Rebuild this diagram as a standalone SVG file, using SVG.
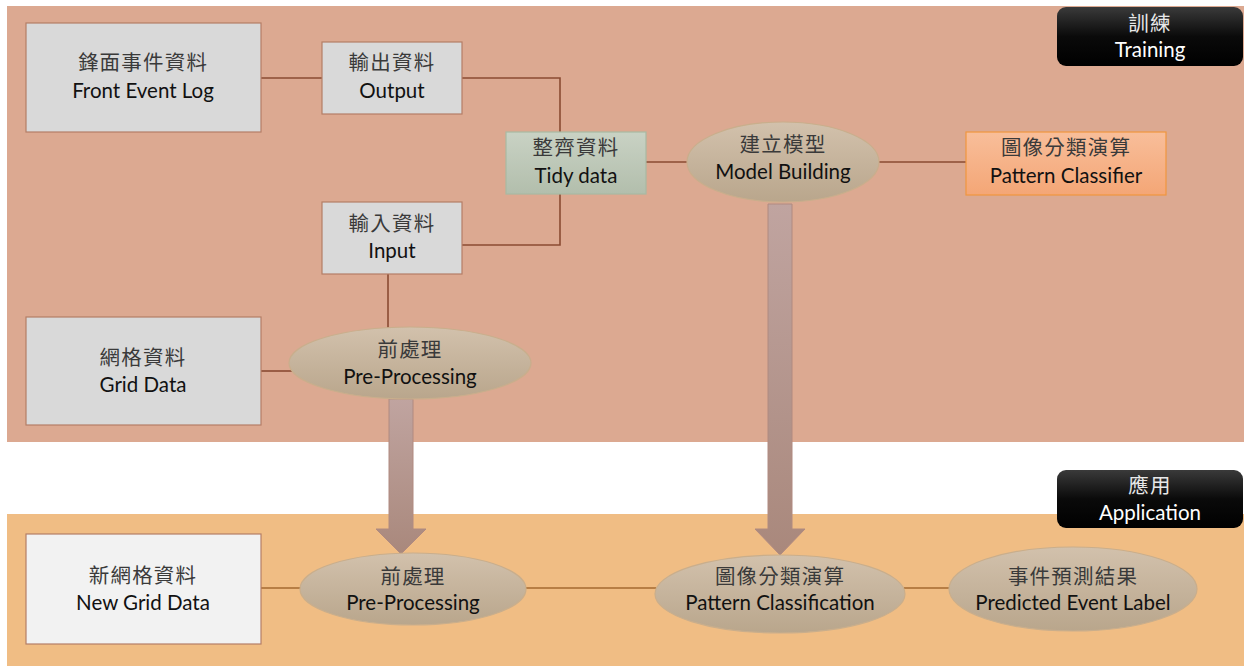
<svg xmlns="http://www.w3.org/2000/svg" width="1244" height="666" viewBox="0 0 1244 666">
<defs>
<linearGradient id="gEll" x1="0" y1="0" x2="0" y2="1"><stop offset="0" stop-color="#D2C1AC"/><stop offset="1" stop-color="#B9A68C"/></linearGradient>
<linearGradient id="gTidy" x1="0" y1="0" x2="0" y2="1"><stop offset="0" stop-color="#C9D2C4"/><stop offset="1" stop-color="#B2BEAC"/></linearGradient>
<linearGradient id="gOrange" x1="0" y1="0" x2="0" y2="1"><stop offset="0" stop-color="#F8BE9A"/><stop offset="1" stop-color="#F4A676"/></linearGradient>
<linearGradient id="gBlack" x1="0" y1="0" x2="0" y2="1"><stop offset="0" stop-color="#3A3A3A"/><stop offset="0.5" stop-color="#0A0A0A"/><stop offset="1" stop-color="#000"/></linearGradient>
<linearGradient id="gArrow" x1="0" y1="0" x2="0" y2="1"><stop offset="0" stop-color="#C0A4A0"/><stop offset="1" stop-color="#A9887C"/></linearGradient>
<style>
.box{fill:#D9D9D9;stroke:#B47E66;stroke-width:1.2}
.ell{fill:url(#gEll);stroke:#C9AE8C;stroke-width:1.2}
.zh{font-family:"Noto Sans CJK TC","Noto Sans CJK SC",sans-serif;font-size:20.5px;fill:#3A3A3A;text-anchor:middle;letter-spacing:1.2px}
.en{font-family:Lato,"Open Sans",sans-serif;font-size:20.5px;fill:#111;text-anchor:middle}
.wz{fill:#E8E8E8}
.we{fill:#FFF}
.ln{stroke:#8A4B32;stroke-width:1.6;fill:none}
.la{stroke:#A56A30;stroke-width:1.6;fill:none}
.arr{fill:url(#gArrow);stroke:#B08A80;stroke-width:1}
</style>
</defs>
<rect x="7" y="6" width="1237" height="436" fill="#DCA991"/>
<rect x="7" y="514" width="1237" height="152" fill="#F0BD84"/>
<g id="connectors">
<path class="ln" d="M261 78 H322"/>
<path class="ln" d="M462 78 H560 V132"/>
<path class="ln" d="M462 245 H560 V194"/>
<path class="ln" d="M646 162 H687"/>
<path class="ln" d="M879 162 H966"/>
<path class="ln" d="M388 274 V328"/>
<path class="ln" d="M261 371 H292"/>
<path class="la" d="M261 588 H301"/>
<path class="la" d="M526 588 H656"/>
<path class="la" d="M904 588 H950"/>
<path class="arr" d="M389 399 H413 V529 H426 L401 554 L376 529 H389 Z"/>
<path class="arr" d="M768 204 H792 V529 H805 L780 555 L755 529 H768 Z"/>
</g>
<g id="label-training">
<rect x="1057" y="7" width="186" height="59" rx="9" fill="url(#gBlack)"/>
<text class="zh wz" x="1150" y="31">訓練</text>
<text class="en we" x="1150" y="57">Training</text>
</g>
<g id="label-application">
<rect x="1057" y="470" width="186" height="58" rx="9" fill="url(#gBlack)"/>
<text class="zh wz" x="1150" y="493">應用</text>
<text class="en we" x="1150" y="520">Application</text>
</g>
<g id="front-event-log">
<rect class="box" x="26" y="23" width="235" height="109"/>
<text class="zh" x="143" y="70">鋒面事件資料</text>
<text class="en" x="143" y="98">Front Event Log</text>
</g>
<g id="output">
<rect class="box" x="322" y="42" width="140" height="72"/>
<text class="zh" x="392" y="70">輸出資料</text>
<text class="en" x="392" y="98">Output</text>
</g>
<g id="input">
<rect class="box" x="322" y="202" width="140" height="72"/>
<text class="zh" x="392" y="231">輸入資料</text>
<text class="en" x="392" y="258">Input</text>
</g>
<g id="tidy-data">
<rect x="506" y="132" width="140" height="62" fill="url(#gTidy)" stroke="#A9B9A2" stroke-width="1.2"/>
<text class="zh" x="576" y="155">整齊資料</text>
<text class="en" x="576" y="183">Tidy data</text>
</g>
<g id="model-building">
<ellipse class="ell" cx="783" cy="162" rx="96" ry="40"/>
<text class="zh" x="783" y="152">建立模型</text>
<text class="en" x="783" y="179">Model Building</text>
</g>
<g id="pattern-classifier">
<rect x="966" y="132" width="200" height="63" fill="url(#gOrange)" stroke="#F0963F" stroke-width="1.2"/>
<text class="zh" x="1066" y="155">圖像分類演算</text>
<text class="en" x="1066" y="183">Pattern Classifier</text>
</g>
<g id="grid-data">
<rect class="box" x="26" y="317" width="235" height="108"/>
<text class="zh" x="143" y="365">網格資料</text>
<text class="en" x="143" y="392">Grid Data</text>
</g>
<g id="pre-processing-train">
<ellipse class="ell" cx="410" cy="363" rx="121" ry="36"/>
<text class="zh" x="410" y="357">前處理</text>
<text class="en" x="410" y="384">Pre-Processing</text>
</g>
<g id="new-grid-data">
<rect x="26" y="534" width="235" height="110" fill="#F2F2F2" stroke="#B47E66" stroke-width="1.2"/>
<text class="zh" x="143" y="583">新網格資料</text>
<text class="en" x="143" y="610">New Grid Data</text>
</g>
<g id="pre-processing-app">
<ellipse class="ell" cx="413" cy="589" rx="113" ry="36"/>
<text class="zh" x="413" y="584">前處理</text>
<text class="en" x="413" y="610">Pre-Processing</text>
</g>
<g id="pattern-classification">
<ellipse class="ell" cx="780" cy="594" rx="125" ry="39"/>
<text class="zh" x="780" y="584">圖像分類演算</text>
<text class="en" x="780" y="610">Pattern Classification</text>
</g>
<g id="predicted-event-label">
<ellipse class="ell" cx="1073" cy="589" rx="124" ry="42"/>
<text class="zh" x="1073" y="584">事件預測結果</text>
<text class="en" x="1073" y="610">Predicted Event Label</text>
</g>
</svg>
